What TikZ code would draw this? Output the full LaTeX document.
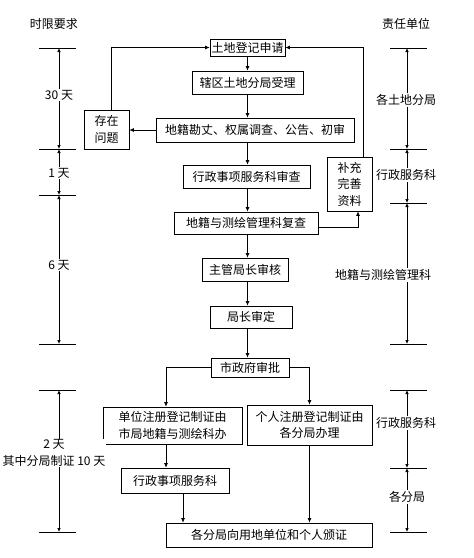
\documentclass[tikz,border=0pt]{standalone}
\usepackage{fontspec}
\newfontfamily\cjk{Noto Sans CJK SC}
\usetikzlibrary{arrows.meta}

\begin{document}
\begin{tikzpicture}[x=1pt, y=-1pt, line width=0.7pt,
  every node/.style={font=\cjk\fontsize{12}{16.5}\selectfont},
  box/.style={draw, inner sep=0pt, align=center},
  arr/.style={-{Latex[length=4.5pt,width=4pt]}},
  dim/.style={{Latex[length=4pt,width=3.5pt]}-{Latex[length=4pt,width=3.5pt]}},
  lbl/.style={fill=white, inner sep=1pt, align=center}]
\useasboundingbox (0,0) rectangle (474,558);

% headings
\node (hLeft) at (54,24) {时限要求};
\node (hRight) at (406,24) {责任单位};

% main flow
\node[box, minimum width=75pt, minimum height=17pt] (reg) at (247.5,47.5) {土地登记申请};
\node[box, minimum width=111pt, minimum height=23pt] (acc) at (247.5,82.5) {辖区土地分局受理};
\node[box, minimum width=198pt, minimum height=24pt] (survey) at (255,130) {地籍勘丈、权属调查、公告、初审};
\node[box, minimum width=127pt, minimum height=23pt] (admin) at (246.5,176.5) {行政事项服务科审查};
\node[box, minimum width=144pt, minimum height=22pt] (recheck) at (246,223) {地籍与测绘管理科复查};
\node[box, minimum width=86pt, minimum height=23pt] (head) at (245,269.5) {主管局长审核};
\node[box, minimum width=82pt, minimum height=22pt] (dir) at (251,317) {局长审定};
\node[box, minimum width=78pt, minimum height=19pt] (gov) at (250,367.5) {市政府审批};

% side boxes
\node[box, minimum width=45pt, minimum height=39pt] (prob) at (106.5,129.5) {存在\\问题};
\node[box, minimum width=45pt, minimum height=54pt] (supp) at (349.5,184) {补充\\完善\\资料};

% branches
\node[box, minimum width=139pt, minimum height=37pt] (unit) at (172.5,425.5) {单位注册登记制证由\\市局地籍与测绘科办};
\node[box, minimum width=125pt, minimum height=40pt] (pers) at (309.5,425) {个人注册登记制证由\\各分局办理};
\node[box, minimum width=108pt, minimum height=25pt] (svc) at (175,480.5) {行政事项服务科};
\node[box, minimum width=206pt, minimum height=24pt] (issue) at (269,535) {各分局向用地单位和个人颁证};

% flow arrows
\draw[arr] (reg.south) -- (acc.north);
\draw[arr] (acc.south) -- (acc.south |- survey.north);
\draw[arr] (survey.south -| reg.south) -- (admin.north -| reg.south);
\draw[arr] (admin.south -| reg.south) -- (recheck.north -| reg.south);
\draw[arr] (recheck.south -| reg.south) -- (head.north -| reg.south);
\draw[arr] (head.south -| reg.south) -- (dir.north -| reg.south);
\draw[arr] (dir.south -| reg.south) -- (gov.north -| reg.south);

% loops back
\draw[arr] (survey.west) -- (prob.east |- survey.west);
\draw[arr] ([xshift=4.5pt]prob.north) |- (reg.west);
\draw[arr] ([yshift=-4pt]recheck.east) -| ([xshift=8.5pt]supp.south);
\draw[arr] ([xshift=13.5pt]supp.north) |- (reg.east);

% split
\draw[arr] (gov.west) -| ([xshift=-6.5pt]unit.north);
\draw[arr] (gov.east) -| (pers.north);
\draw[arr] ([xshift=-6.5pt]unit.south) -- ([xshift=-6.5pt]unit.south |- svc.north);
\draw[arr] ([xshift=8pt]svc.south) -- ([xshift=8pt]svc.south |- issue.north);
\draw[arr] (pers.south) -- (pers.south |- issue.north);

% time limits
\foreach \n/\y in {1/48,2/149,3/195,4/344,5/390,6/532}
  \coordinate (t\n) at (59,\y);
\foreach \n in {1,...,6}
  \draw ([xshift=-20pt]t\n) -- ([xshift=17pt]t\n);
\draw[dim] (t1) -- (t2);
\draw[dim] (t2) -- (t3);
\draw[dim] (t3) -- (t4);
\draw[dim] (t5) -- (t6);
\node[lbl] (d30) at (59,95) {30 天};
\node[lbl] (d1) at (59,173) {1 天};
\node[lbl] (d6) at (59,265) {6 天};
\node[lbl] (d2) at (54,453) {2 天\\其中分局制证 10 天};

% responsible units
\foreach \n/\y in {1/48,2/149,3/203,4/344,5/390,6/468,7/532}
  \coordinate (r\n) at (407,\y);
\foreach \n in {1,...,7}
  \draw ([xshift=-17pt]r\n) -- ([xshift=20pt]r\n);
\draw[dim] (r1) -- (r2);
\draw[dim] (r2) -- (r3);
\draw[dim] (r3) -- (r4);
\draw[dim] (r5) -- (r6);
\draw[dim] (r6) -- (r7);
\node[lbl] (u1) at (406,100) {各土地分局};
\node[lbl] (u2) at (406,175) {行政服务科};
\node[lbl] (u3) at (383,275) {地籍与测绘管理科};
\node[lbl] (u4) at (406,423) {行政服务科};
\node[lbl] (u5) at (407,497) {各分局};
\end{tikzpicture}
\end{document}
